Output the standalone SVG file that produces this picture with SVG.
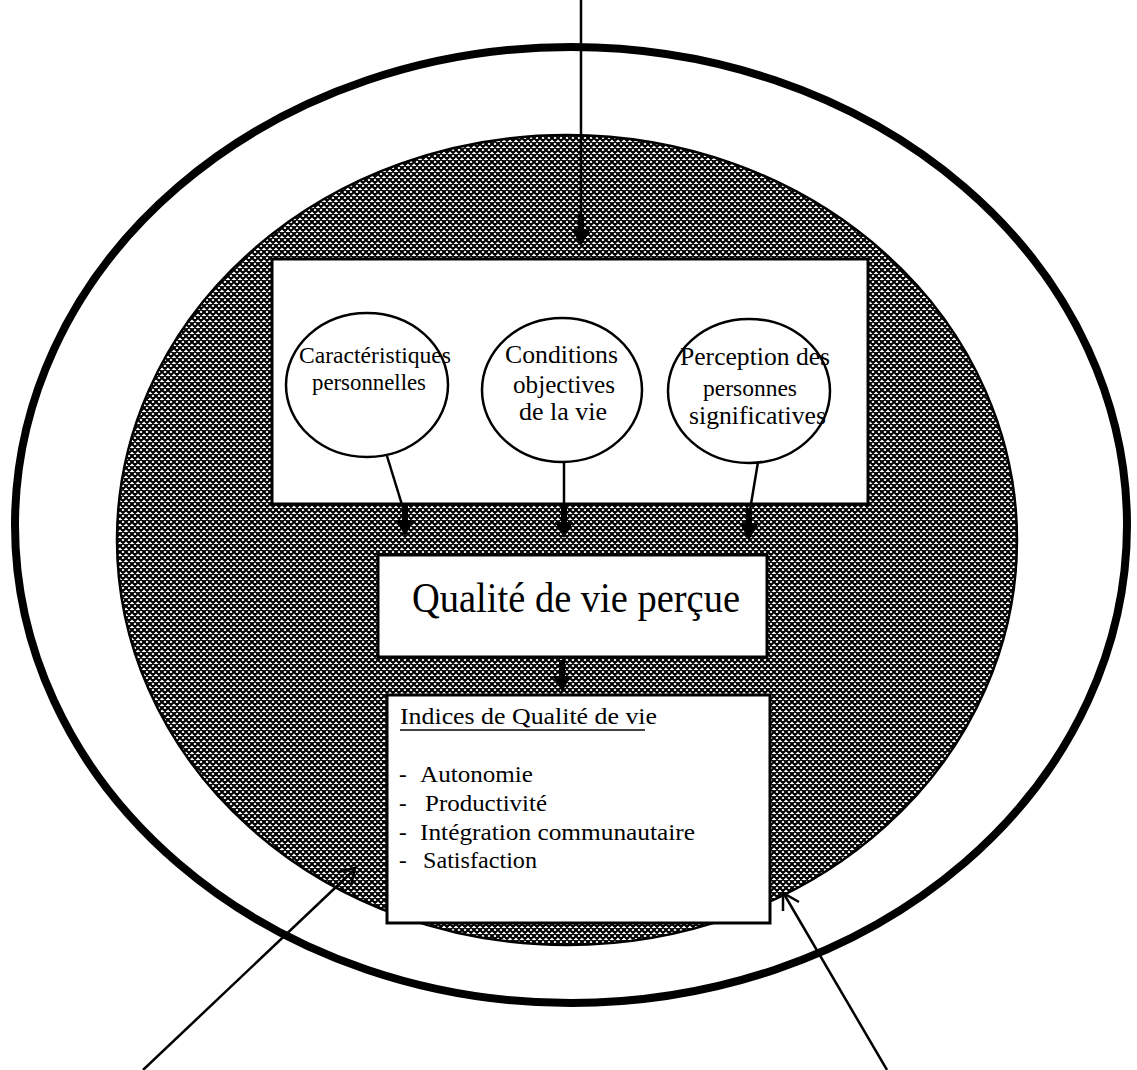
<svg xmlns="http://www.w3.org/2000/svg" width="1137" height="1070" viewBox="0 0 1137 1070">
<style>
.t{font-family:"Liberation Serif","Times New Roman",serif;fill:#000}
.box{fill:#fff;stroke:#000;stroke-width:3}
.circ{fill:none;stroke:#000;stroke-width:2.5}
.ln{fill:none;stroke:#000;stroke-width:2.5}
</style>
<defs>
<pattern id="hatch" width="6" height="6" patternUnits="userSpaceOnUse">
<rect width="6" height="6" fill="#fff"/>
<path d="M-1,-1 L7,7 M-6,0 L6,12 M0,-6 L12,6 M-1,7 L7,-1 M-6,6 L6,-6 M0,12 L12,0" stroke="#000" stroke-width="2.1"/>
</pattern>
<path id="thk" d="M-3,-32 L3,-32 L3,-16 L9,-16 L0,0 L-9,-16 L-3,-16 Z"/>
</defs>
<rect width="1137" height="1070" fill="#fff"/>
<g id="outer-ring">
<ellipse cx="571" cy="525" rx="556" ry="478" fill="none" stroke="#000" stroke-width="8"/>
</g>
<g id="hatched-zone">
<ellipse cx="567" cy="540" rx="450" ry="405" fill="url(#hatch)" stroke="#000" stroke-width="2.5"/>
</g>
<g id="determinants">
<rect class="box" x="272" y="259" width="596" height="245" stroke-width="2.5"/>
</g>
<g id="caracteristiques">
<ellipse cx="367" cy="385" rx="81" ry="72" fill="#fff"/>
<text class="t" x="299" y="363" font-size="24" textLength="152" lengthAdjust="spacingAndGlyphs">Caractéristiques</text>
<text class="t" x="312" y="390" font-size="24" textLength="114" lengthAdjust="spacingAndGlyphs">personnelles</text>
<ellipse class="circ" cx="367" cy="385" rx="81" ry="72"/>
</g>
<g id="conditions">
<ellipse cx="562" cy="390" rx="80" ry="72" fill="#fff"/>
<text class="t" x="505" y="363" font-size="25" textLength="113" lengthAdjust="spacingAndGlyphs">Conditions</text>
<text class="t" x="513" y="393" font-size="25" textLength="102" lengthAdjust="spacingAndGlyphs">objectives</text>
<text class="t" x="519" y="420" font-size="25" textLength="88" lengthAdjust="spacingAndGlyphs">de la vie</text>
<ellipse class="circ" cx="562" cy="390" rx="80" ry="72"/>
</g>
<g id="perception">
<ellipse cx="749" cy="391" rx="81" ry="72" fill="#fff"/>
<text class="t" x="680" y="365" font-size="25" textLength="150" lengthAdjust="spacingAndGlyphs">Perception des</text>
<text class="t" x="703" y="396" font-size="24" textLength="94" lengthAdjust="spacingAndGlyphs">personnes</text>
<text class="t" x="689" y="424" font-size="25" textLength="137" lengthAdjust="spacingAndGlyphs">significatives</text>
<ellipse class="circ" cx="749" cy="391" rx="81" ry="72"/>
</g>
<g id="qualite-percue">
<rect class="box" x="378" y="555" width="389" height="102"/>
<text class="t" x="412" y="612" font-size="42" textLength="328" lengthAdjust="spacingAndGlyphs">Qualité de vie perçue</text>
</g>
<g id="indices">
<rect class="box" x="387" y="695" width="383" height="228"/>
<text class="t" x="400" y="724" font-size="23" textLength="257" lengthAdjust="spacingAndGlyphs">Indices de Qualité de vie</text>
<line x1="400" y1="730" x2="645" y2="730" stroke="#000" stroke-width="1.6"/>
<text class="t" x="399" y="782" font-size="23">-</text>
<text class="t" x="420" y="782" font-size="23" textLength="113" lengthAdjust="spacingAndGlyphs">Autonomie</text>
<text class="t" x="399" y="811" font-size="23">-</text>
<text class="t" x="425" y="811" font-size="23" textLength="122" lengthAdjust="spacingAndGlyphs">Productivité</text>
<text class="t" x="399" y="840" font-size="23">-</text>
<text class="t" x="420" y="840" font-size="23" textLength="275" lengthAdjust="spacingAndGlyphs">Intégration communautaire</text>
<text class="t" x="399" y="868" font-size="23">-</text>
<text class="t" x="423" y="868" font-size="23" textLength="114" lengthAdjust="spacingAndGlyphs">Satisfaction</text>
</g>
<g id="connectors">
<line class="ln" x1="581" y1="0" x2="581" y2="220"/>
<use href="#thk" x="581" y="246"/>
<line class="ln" x1="387" y1="456" x2="403" y2="508"/>
<use href="#thk" x="405" y="536"/>
<line class="ln" x1="564" y1="461" x2="564" y2="508"/>
<use href="#thk" x="564" y="538"/>
<line class="ln" x1="758" y1="462" x2="750" y2="510"/>
<use href="#thk" x="749" y="540"/>
<use href="#thk" x="562" y="692"/>
<line class="ln" x1="143" y1="1070" x2="355" y2="869"/>
<polyline class="ln" points="338,872 355,868 351,885"/>
<line class="ln" x1="887" y1="1070" x2="784" y2="894"/>
<polyline class="ln" points="783,911 783,893 799,902"/>
</g>
</svg>
